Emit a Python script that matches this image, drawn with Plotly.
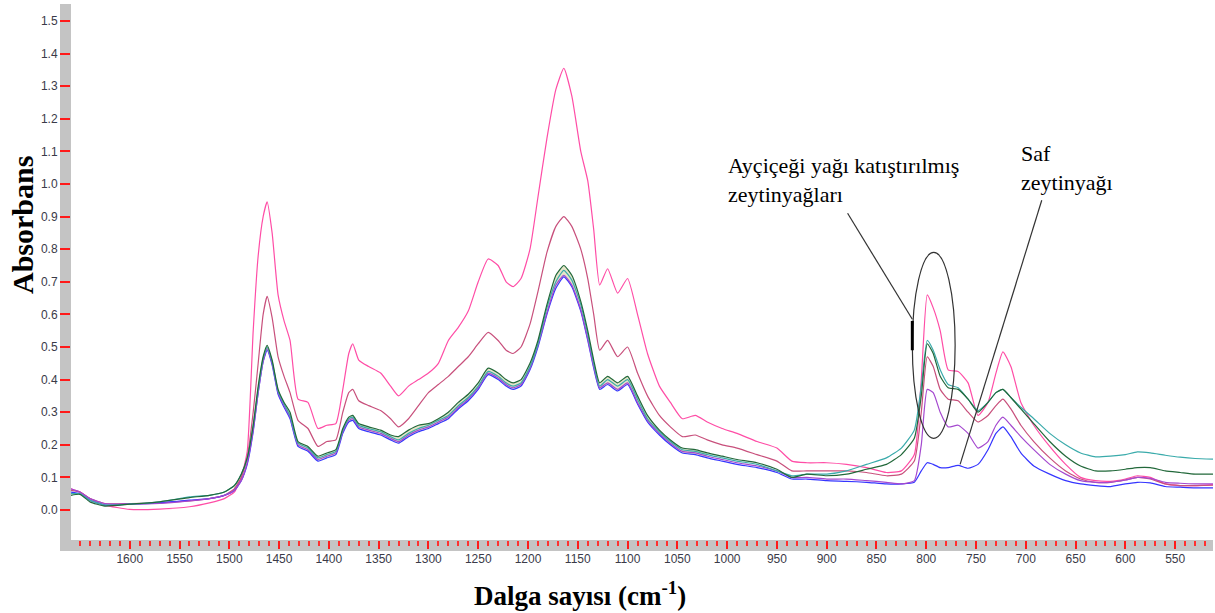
import plotly.graph_objects as go

# ---------------- data ----------------
wavenumber = [1659, 1650, 1640, 1625, 1600, 1570, 1540, 1520, 1505, 1495,
              1488, 1482, 1476, 1471, 1466, 1462, 1457, 1451, 1445, 1439,
              1431, 1421, 1411, 1402, 1393, 1386, 1380, 1376, 1370, 1360,
              1348, 1338, 1330, 1320, 1310, 1300, 1290, 1280, 1270, 1260,
              1250, 1240, 1230, 1222, 1215, 1207, 1198, 1190, 1181, 1172,
              1164, 1156, 1147, 1140, 1134, 1128, 1120, 1110, 1100, 1090,
              1080, 1068, 1057, 1045, 1032, 1020, 1005, 990, 970, 950,
              935, 920, 900, 880, 860, 840, 825, 812, 805, 799,
              793, 786, 778, 768, 758, 748, 738, 730, 723, 715,
              705, 692, 676, 660, 645, 630, 615, 600, 588, 575,
              560, 545, 530, 512]

pink = [0.065, 0.055, 0.035, 0.015, 0.002, 0.003, 0.010, 0.022, 0.035, 0.055,
        0.10, 0.18, 0.55, 0.78, 0.90, 0.945, 0.85, 0.66, 0.58, 0.52,
        0.34, 0.33, 0.25, 0.26, 0.265, 0.37, 0.48, 0.51, 0.46, 0.44,
        0.42, 0.38, 0.35, 0.38, 0.40, 0.42, 0.45, 0.52, 0.56, 0.61,
        0.70, 0.77, 0.75, 0.70, 0.685, 0.71, 0.80, 0.96, 1.14, 1.29,
        1.355, 1.27, 1.10, 1.01, 0.86, 0.69, 0.74, 0.665, 0.71, 0.60,
        0.48, 0.38, 0.33, 0.28, 0.29, 0.27, 0.25, 0.235, 0.21, 0.19,
        0.15, 0.145, 0.145, 0.14, 0.13, 0.115, 0.12, 0.17, 0.40, 0.66,
        0.62, 0.55, 0.43, 0.425, 0.39, 0.29, 0.33, 0.42, 0.485, 0.44,
        0.33, 0.26, 0.195, 0.14, 0.10, 0.09, 0.088, 0.095, 0.105, 0.10,
        0.08, 0.075, 0.075, 0.078]

rose = [0.06, 0.055, 0.035, 0.02, 0.02, 0.022, 0.028, 0.035, 0.045, 0.065,
        0.10, 0.16, 0.30, 0.45, 0.60, 0.655, 0.59, 0.47, 0.41, 0.36,
        0.275, 0.25, 0.195, 0.21, 0.215, 0.30, 0.36, 0.37, 0.335, 0.32,
        0.305, 0.28, 0.255, 0.28, 0.32, 0.36, 0.385, 0.41, 0.44, 0.47,
        0.51, 0.545, 0.52, 0.49, 0.48, 0.50, 0.57, 0.67, 0.79, 0.87,
        0.90, 0.87, 0.80, 0.71, 0.60, 0.49, 0.52, 0.47, 0.50, 0.42,
        0.35, 0.29, 0.255, 0.225, 0.23, 0.215, 0.20, 0.19, 0.17, 0.15,
        0.12, 0.12, 0.12, 0.12, 0.115, 0.105, 0.11, 0.15, 0.30, 0.47,
        0.44, 0.37, 0.34, 0.335, 0.30, 0.27, 0.29, 0.32, 0.34, 0.31,
        0.26, 0.21, 0.16, 0.12, 0.095, 0.085, 0.085, 0.092, 0.10, 0.095,
        0.08, 0.075, 0.075, 0.076]

green = [0.045, 0.048, 0.025, 0.012, 0.018, 0.025, 0.038, 0.045, 0.055, 0.075,
         0.11, 0.16, 0.26, 0.38, 0.47, 0.505, 0.46, 0.37, 0.33, 0.30,
         0.21, 0.195, 0.165, 0.175, 0.185, 0.25, 0.285, 0.29, 0.265, 0.255,
         0.245, 0.23, 0.225, 0.245, 0.26, 0.265, 0.28, 0.30, 0.33, 0.355,
         0.39, 0.435, 0.42, 0.40, 0.39, 0.40, 0.45, 0.52, 0.63, 0.72,
         0.75, 0.72, 0.64, 0.55, 0.46, 0.39, 0.41, 0.39, 0.41, 0.35,
         0.29, 0.245, 0.215, 0.19, 0.185, 0.175, 0.165, 0.155, 0.145, 0.125,
         0.10, 0.11, 0.105, 0.11, 0.125, 0.14, 0.17, 0.22, 0.35, 0.51,
         0.48, 0.41, 0.375, 0.37, 0.34, 0.30, 0.33, 0.36, 0.37, 0.345,
         0.31, 0.265, 0.21, 0.165, 0.135, 0.12, 0.12, 0.125, 0.13, 0.13,
         0.12, 0.115, 0.11, 0.11]

teal = [0.05, 0.05, 0.03, 0.015, 0.018, 0.025, 0.04, 0.045, 0.055, 0.075,
        0.11, 0.16, 0.26, 0.37, 0.465, 0.50, 0.455, 0.365, 0.325, 0.29,
        0.205, 0.19, 0.16, 0.17, 0.18, 0.245, 0.28, 0.285, 0.26, 0.25,
        0.24, 0.225, 0.215, 0.235, 0.25, 0.26, 0.275, 0.29, 0.32, 0.345,
        0.38, 0.425, 0.41, 0.39, 0.38, 0.39, 0.44, 0.51, 0.62, 0.70,
        0.735, 0.705, 0.63, 0.54, 0.45, 0.38, 0.40, 0.38, 0.40, 0.34,
        0.28, 0.24, 0.21, 0.185, 0.18, 0.17, 0.16, 0.15, 0.14, 0.12,
        0.105, 0.11, 0.11, 0.12, 0.14, 0.16, 0.19, 0.245, 0.38, 0.52,
        0.49, 0.43, 0.385, 0.375, 0.34, 0.305, 0.33, 0.36, 0.37, 0.345,
        0.315, 0.28, 0.235, 0.20, 0.175, 0.163, 0.165, 0.17, 0.178, 0.175,
        0.168, 0.162, 0.158, 0.156]

purple = [0.065, 0.055, 0.035, 0.02, 0.018, 0.02, 0.028, 0.035, 0.045, 0.06,
          0.09, 0.145, 0.245, 0.36, 0.455, 0.495, 0.45, 0.36, 0.32, 0.285,
          0.20, 0.185, 0.155, 0.165, 0.175, 0.24, 0.275, 0.28, 0.255, 0.245,
          0.235, 0.22, 0.21, 0.23, 0.245, 0.255, 0.27, 0.285, 0.315, 0.34,
          0.375, 0.42, 0.405, 0.385, 0.375, 0.385, 0.435, 0.505, 0.605, 0.69,
          0.72, 0.69, 0.615, 0.525, 0.44, 0.375, 0.39, 0.37, 0.39, 0.33,
          0.275, 0.235, 0.205, 0.18, 0.175, 0.165, 0.155, 0.145, 0.135, 0.12,
          0.10, 0.10, 0.095, 0.095, 0.09, 0.085, 0.08, 0.09, 0.20, 0.37,
          0.36, 0.30, 0.255, 0.26, 0.235, 0.19, 0.21, 0.26, 0.285, 0.26,
          0.225, 0.185, 0.14, 0.11, 0.09, 0.085, 0.085, 0.092, 0.10, 0.097,
          0.085, 0.082, 0.08, 0.08]

blue = [0.055, 0.05, 0.03, 0.015, 0.018, 0.022, 0.03, 0.035, 0.045, 0.06,
        0.09, 0.14, 0.24, 0.36, 0.455, 0.49, 0.445, 0.355, 0.315, 0.28,
        0.195, 0.18, 0.15, 0.16, 0.17, 0.235, 0.27, 0.275, 0.25, 0.24,
        0.23, 0.215, 0.205, 0.225, 0.24, 0.25, 0.265, 0.28, 0.31, 0.335,
        0.37, 0.415, 0.40, 0.38, 0.37, 0.38, 0.43, 0.50, 0.60, 0.68,
        0.715, 0.685, 0.61, 0.52, 0.435, 0.37, 0.385, 0.365, 0.385, 0.325,
        0.27, 0.23, 0.20, 0.175, 0.17, 0.16, 0.15, 0.14, 0.13, 0.115,
        0.095, 0.095, 0.09, 0.088, 0.085, 0.08, 0.08, 0.085, 0.12, 0.145,
        0.14, 0.13, 0.13, 0.137, 0.128, 0.14, 0.185, 0.235, 0.255, 0.225,
        0.175, 0.135, 0.11, 0.09, 0.08, 0.075, 0.072, 0.08, 0.085, 0.083,
        0.072, 0.07, 0.068, 0.068]

x_tick_values = list(range(1600, 549, -50))
y_tick_values = [round(0.1 * i, 1) for i in range(0, 16)]

y_title = "Absorbans"
x_title = "Dalga sayısı (cm<sup>-1</sup>)"
label_mix = "Ayçiçeği yağı katıştırılmış<br>zeytinyağları"
label_pure = "Saf<br>zeytinyağı"

# ---------------- figure ----------------
W, H = 1215, 613
L, R, T, B = 71, 2, 4, 73
PW, PH = W - L - R, H - T - B

fig = go.Figure()

line_shape = dict(shape="spline", smoothing=0.5)

# shaded band between the closely spaced spectra (green / blue) in the main region
lo, hi = 9, 66
fig.add_trace(go.Scatter(x=wavenumber[lo:hi], y=blue[lo:hi], mode="lines",
                         line=dict(width=0, color="rgba(0,0,0,0)", **line_shape),
                         showlegend=False, hoverinfo="skip"))
fig.add_trace(go.Scatter(x=wavenumber[lo:hi], y=green[lo:hi], mode="lines",
                         line=dict(width=0, color="rgba(0,0,0,0)", **line_shape),
                         fill="tonexty", fillcolor="rgba(226,224,192,0.85)",
                         showlegend=False, hoverinfo="skip"))

series = [
    ("pink", pink, "#ff4da6"),
    ("rose", rose, "#c8507c"),
    ("blue", blue, "#3535ff"),
    ("purple", purple, "#a448cf"),
    ("teal", teal, "#3aabab"),
    ("green", green, "#22683a"),
]
for name, vals, color in series:
    fig.add_trace(go.Scatter(x=wavenumber, y=vals, mode="lines", name=name,
                             line=dict(color=color, width=1.2, **line_shape),
                             showlegend=False))


def px(xp):
    return (xp - L) / PW


def py(yp):
    return (H - B - yp) / PH


shapes = [
    # grey frame bands (left and bottom)
    dict(type="rect", xref="paper", yref="paper", x0=px(60), x1=px(71),
         y0=py(551), y1=py(4), fillcolor="#c4c4c4", line=dict(width=0), layer="below"),
    dict(type="rect", xref="paper", yref="paper", x0=px(60), x1=px(1213),
         y0=py(551), y1=py(540), fillcolor="#c4c4c4", line=dict(width=0), layer="below"),
    # ellipse around the 800 cm-1 band
    dict(type="circle", xref="x", yref="y", x0=814, x1=771, y0=0.22, y1=0.79,
         line=dict(color="#333333", width=1.2)),
    dict(type="line", xref="x", yref="y", x0=814, x1=814, y0=0.58, y1=0.49,
         line=dict(color="#000000", width=3)),
    # pointer lines
    dict(type="line", xref="x", yref="y", x0=814, y0=0.585, x1=879, y1=0.91,
         line=dict(color="#333333", width=1.2)),
    dict(type="line", xref="x", yref="y", x0=766, y0=0.14, x1=684, y1=0.95,
         line=dict(color="#333333", width=1.2)),
]

annotations = [
    dict(text=f"<b>{y_title}</b>", xref="paper", yref="paper", x=px(22), y=py(225),
         textangle=-90, showarrow=False, xanchor="center", yanchor="middle",
         font=dict(family="Liberation Serif", size=30, color="#000000")),
    dict(text=f"<b>{x_title}</b>", xref="paper", yref="paper", x=px(580), y=py(594),
         showarrow=False, xanchor="center", yanchor="middle",
         font=dict(family="Liberation Serif", size=27, color="#000000")),
    dict(text=label_mix, xref="paper", yref="paper", x=px(726), y=py(180),
         showarrow=False, xanchor="left", yanchor="middle", align="left",
         font=dict(family="Liberation Serif", size=22, color="#000000")),
    dict(text=label_pure, xref="paper", yref="paper", x=px(1019), y=py(168),
         showarrow=False, xanchor="left", yanchor="middle", align="left",
         font=dict(family="Liberation Serif", size=22, color="#000000")),
]

fig.update_layout(
    width=W, height=H,
    margin=dict(l=L, r=R, t=T, b=B, pad=0),
    paper_bgcolor="#ffffff", plot_bgcolor="#ffffff",
    shapes=shapes, annotations=annotations,
    xaxis=dict(range=[1659, 512], tickvals=x_tick_values,
               ticktext=[str(v) for v in x_tick_values],
               ticks="outside", ticklen=8, tickwidth=1.5, tickcolor="#ff1a1a",
               minor=dict(ticks="outside", ticklen=5, tickwidth=1.5,
                          tickcolor="#ff3030", dtick=10, tick0=1600, showgrid=False),
               showgrid=False, zeroline=False, showline=False,
               tickfont=dict(family="Arial, Liberation Sans", size=12, color="#3a3a48")),
    yaxis=dict(range=[-0.092, 1.552], tickvals=y_tick_values,
               ticktext=[f"{v:.1f}" for v in y_tick_values],
               ticks="outside", ticklen=10, tickwidth=1.5, tickcolor="#ff1a1a",
               showgrid=False, zeroline=False, showline=False,
               tickfont=dict(family="Arial, Liberation Sans", size=12, color="#3a3a48")),
)

fig.write_html("out.html")
